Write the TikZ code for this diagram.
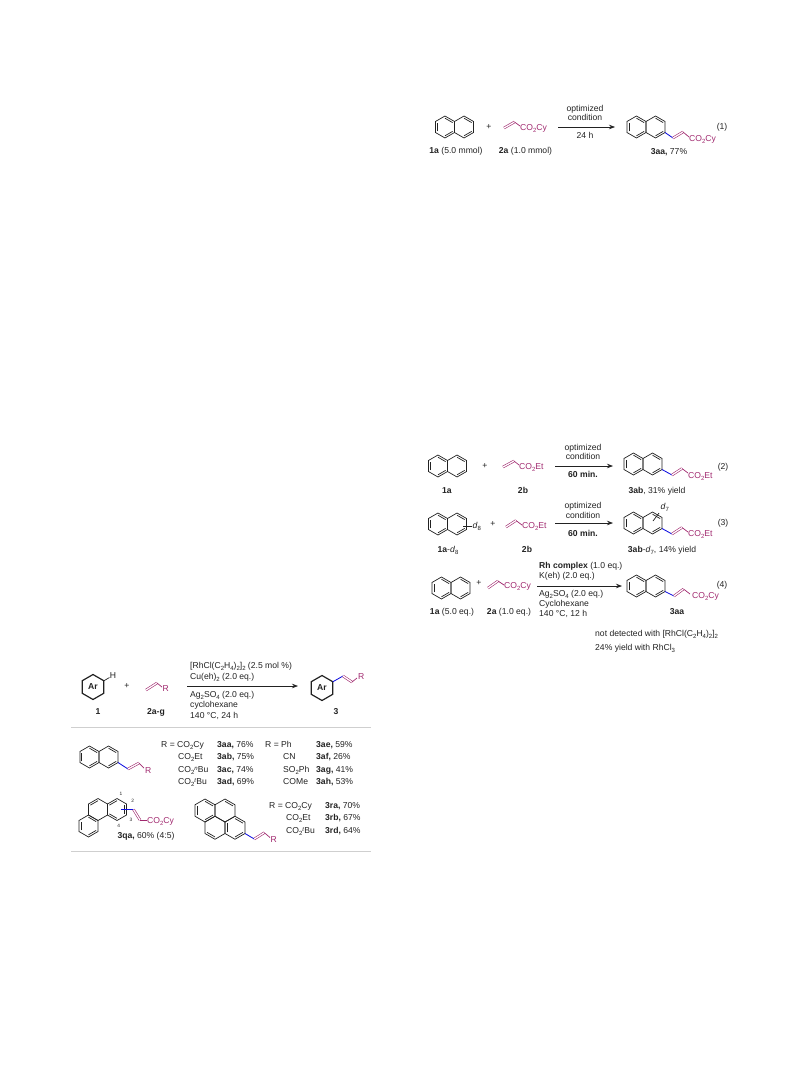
\documentclass[tikz,border=0pt]{standalone}
\usepackage{fontspec}
\setmainfont{Liberation Sans}
\usetikzlibrary{arrows.meta}
\definecolor{acrylcol}{HTML}{A0286E}
\definecolor{newbond}{HTML}{1010E0}
\definecolor{rulecol}{HTML}{CFCFCF}
\definecolor{inkcol}{HTML}{222222}
\newcommand{\dn}[1]{\raisebox{-1.3pt}{\fontsize{6}{6}\selectfont #1}}
\newcommand{\upx}[1]{\raisebox{2.8pt}{\fontsize{6}{6}\selectfont #1}}
\newcommand{\ringa}{11}
% one hexagon: centre x, centre y, edges that get an inner line
\newcommand{\chemring}[3]{
	\draw[bond] (#1,#2) +(30:\ringa) -- +(90:\ringa) -- +(150:\ringa) -- +(210:\ringa) -- +(270:\ringa) -- +(330:\ringa) -- cycle;
	\foreach \k in {#3}
	{
		\draw[bond] (#1,#2) +(30+60*\k:0.8*\ringa) -- +(90+60*\k:0.8*\ringa);
	}
}
\newcommand{\naphth}[2]{
	\begin{scope}[shift={(#1,#2)}]
		\chemring{-9.53}{0}{0,2,4}
		\chemring{9.53}{0}{0,4}
	\end{scope}
}
% blue bond, then the magenta alkene
\newcommand{\sidechain}[4]{
	\draw[newb] #1 -- #2;
	\draw[dblb] #2 -- #3;
	\draw[acryl] #3 -- #4;
}
\newcommand{\vinylgroup}[3]{
	\draw[dblb] #1 -- #2;
	\draw[acryl] #2 -- #3;
}
\tikzset{
	bond/.style={inkcol, line width=0.7pt, line join=miter},
	acryl/.style={acrylcol, line width=0.7pt},
	dblb/.style={acrylcol, line width=0.6pt, double=white, double distance=1.3pt},
	newb/.style={newbond, line width=0.85pt},
	txt/.style={inner sep=0pt, text=inkcol, text height=5.8pt, text depth=0pt, font=\fontsize{8.6}{9}\selectfont},
	wtxt/.style={txt, anchor=west},
	magtxt/.style={wtxt, text=acrylcol},
	tiny/.style={txt, text height=3.2pt, font=\fontsize{4.8}{5}\selectfont},
	rxnarrow/.style={-{Stealth[length=6pt,width=4.5pt]}, inkcol, line width=0.7pt},
	grayrule/.style={rulecol, line width=0.8pt},
}
\begin{document}
\begin{tikzpicture}[x=1pt,y=-1pt]
	\useasboundingbox (0,0) rectangle (793,1079);
	% scheme 1
	\naphth{454.5}{127}
	\node[txt] (plusA) at (489,127) {+};
	\vinylgroup{(504,128)}{(514.5,122)}{(520,126)}
	\node[magtxt] (esterA) at (520,128) {CO\dn{2}Cy};
	\coordinate (arrA1) at (558,127);
	\coordinate (arrA2) at (615,127);
	\draw[rxnarrow] (arrA1) -- (arrA2);
	\node[txt] (optA) at (585,109) {optimized};
	\node[txt] (condA) at (585,118) {condition};
	\node[txt] (timeA) at (585,136) {24 h};
	\naphth{646}{127}
	\sidechain{(665,132.5)}{(673,138)}{(683,132)}{(689,137)}
	\node[magtxt] (prodA) at (689,139) {CO\dn{2}Cy};
	\node[txt] (numA) at (722,127) {(1)};
	\node[txt] (labA1) at (456,151) {\textbf{1a} (5.0 mmol)};
	\node[txt] (labA2) at (525.5,151) {\textbf{2a} (1.0 mmol)};
	\node[txt] (labA3) at (669,152) {\textbf{3aa,} 77\%};
	% scheme 2
	\naphth{447.5}{466}
	\node[txt] (plusB) at (485,466) {+};
	\vinylgroup{(503,467)}{(514,461)}{(519,465)}
	\node[magtxt] (esterB) at (519,467) {CO\dn{2}Et};
	\coordinate (arrB1) at (555,466);
	\coordinate (arrB2) at (613,466);
	\draw[rxnarrow] (arrB1) -- (arrB2);
	\node[txt] (optB) at (583,448) {optimized};
	\node[txt] (condB) at (583,457) {condition};
	\node[txt] (timeB) at (583,475) {\textbf{60 min.}};
	\naphth{643}{464}
	\sidechain{(662,469.5)}{(672,475)}{(682,468.5)}{(688,473)}
	\node[magtxt] (prodB) at (688,476) {CO\dn{2}Et};
	\node[txt] (numB) at (723,467) {(2)};
	\node[txt] (labB1) at (447,491) {\textbf{1a}};
	\node[txt] (labB2) at (523,491) {\textbf{2b}};
	\node[txt] (labB3) at (657,491) {\textbf{3ab}, 31\% yield};
	% scheme 3
	\naphth{447.5}{524}
	\draw[bond] (463,526) -- (472,526);
	\node[wtxt] (deutC) at (472.5,526) {\textit{d}\dn{8}};
	\node[txt] (plusC) at (493,524) {+};
	\vinylgroup{(506,527)}{(516,520.5)}{(522,525)}
	\node[magtxt] (esterC) at (522,526) {CO\dn{2}Et};
	\coordinate (arrC1) at (555,523);
	\coordinate (arrC2) at (613,523);
	\draw[rxnarrow] (arrC1) -- (arrC2);
	\node[txt] (optC) at (583,506) {optimized};
	\node[txt] (condC) at (583,516) {condition};
	\node[txt] (timeC) at (583,534) {\textbf{60 min.}};
	\naphth{643}{523}
	\draw[bond] (653,521) -- (659,513);
	\node[wtxt] (deutD) at (660.5,507) {\textit{d}\dn{7}};
	\sidechain{(662,528.5)}{(672,534)}{(682,527.5)}{(688,532)}
	\node[magtxt] (prodC) at (688,534) {CO\dn{2}Et};
	\node[txt] (numC) at (723,523) {(3)};
	\node[txt] (labC1) at (448,550) {\textbf{1a}-\textit{d}\dn{8}};
	\node[txt] (labC2) at (527,550) {\textbf{2b}};
	\node[txt] (labC3) at (662,550) {\textbf{3ab}-\textit{d}\dn{7}, 14\% yield};
	% scheme 4
	\naphth{451}{588}
	\node[txt] (plusD) at (479,583) {+};
	\vinylgroup{(488,588)}{(498,581)}{(504,585)}
	\node[magtxt] (esterD) at (504,586) {CO\dn{2}Cy};
	\coordinate (arrD1) at (537,586);
	\coordinate (arrD2) at (622,586);
	\draw[rxnarrow] (arrD1) -- (arrD2);
	\node[wtxt] (condD1) at (539,566) {\textbf{Rh complex} (1.0 eq.)};
	\node[wtxt] (condD2) at (539,576) {K(eh) (2.0 eq.)};
	\node[wtxt] (condD3) at (539,594) {Ag\dn{2}SO\dn{4} (2.0 eq.)};
	\node[wtxt] (condD4) at (539,604) {Cyclohexane};
	\node[wtxt] (condD5) at (539,614) {140 °C, 12 h};
	\naphth{646}{586}
	\sidechain{(665,591.5)}{(674,596)}{(683.5,589)}{(690,594)}
	\node[magtxt] (prodD) at (692,596) {CO\dn{2}Cy};
	\node[txt] (numD) at (722,585) {(4)};
	\node[txt] (labD1) at (452,612) {\textbf{1a} (5.0 eq.)};
	\node[txt] (labD2) at (509,612) {\textbf{2a} (1.0 eq.)};
	\node[txt] (labD3) at (677,612) {\textbf{3aa}};
	\node[wtxt] (noteA) at (595,634) {not detected with [RhCl(C\dn{2}H\dn{4})\dn{2}]\dn{2}};
	\node[wtxt] (noteB) at (595,648) {24\% yield with RhCl\dn{3}};
	% general scheme
	\draw[inkcol, line width=1.2pt] (93,687) +(30:12.5) -- +(90:12.5) -- +(150:12.5) -- +(210:12.5) -- +(270:12.5) -- +(330:12.5) -- cycle;
	\node[txt] (arene) at (93,687) {\textbf{Ar}};
	\draw[bond] (103.8,680.8) -- (109.5,677.5);
	\node[txt] (hydro) at (113,676) {H};
	\node[txt] (plusE) at (127,686) {+};
	\vinylgroup{(146,690)}{(157,683)}{(162,687)}
	\node[magtxt] (rgroupA) at (162.5,689) {R};
	\coordinate (arrE1) at (187,686);
	\coordinate (arrE2) at (298,686);
	\draw[rxnarrow] (arrE1) -- (arrE2);
	\node[wtxt] (condE1) at (190,666) {[RhCl(C\dn{2}H\dn{4})\dn{2}]\dn{2} (2.5 mol \%)};
	\node[wtxt] (condE2) at (190,677) {Cu(eh)\dn{2} (2.0 eq.)};
	\node[wtxt] (condE3) at (190,695) {Ag\dn{2}SO\dn{4} (2.0 eq.)};
	\node[wtxt] (condE4) at (190,705) {cyclohexane};
	\node[wtxt] (condE5) at (190,716) {140 °C, 24 h};
	\draw[inkcol, line width=1.2pt] (322,688) +(30:12.5) -- +(90:12.5) -- +(150:12.5) -- +(210:12.5) -- +(270:12.5) -- +(330:12.5) -- cycle;
	\node[txt] (areneP) at (322,688) {\textbf{Ar}};
	\sidechain{(332.8,681.8)}{(343,676)}{(352,682)}{(357,678)}
	\node[magtxt] (rgroupB) at (358,676.5) {R};
	\node[txt] (labE1) at (98,712) {\textbf{1}};
	\node[txt] (labE2) at (156,712) {\textbf{2a-g}};
	\node[txt] (labE3) at (336,712) {\textbf{3}};
	\coordinate (ruleA1) at (71,727);
	\coordinate (ruleA2) at (371,727);
	\draw[grayrule] (ruleA1) -- (ruleA2);
	% naphthyl products
	\naphth{99}{757}
	\sidechain{(118,762.5)}{(128,769)}{(139,763)}{(144,768)}
	\node[magtxt] (rgroupC) at (145,771) {R};
	\node[wtxt] (rowRa) at (161,745) {R = CO\dn{2}Cy};
	\node[wtxt] (rowRb) at (178,757) {CO\dn{2}Et};
	\node[wtxt] (rowRc) at (178,770) {CO\dn{2}\upx{\textit{n}}Bu};
	\node[wtxt] (rowRd) at (178,782) {CO\dn{2}\upx{\textit{t}}Bu};
	\foreach \name/\ypos/\prod/\yld in {a/745/3aa/76, b/757/3ab/75, c/770/3ac/74, d/782/3ad/69}
	{
		\node[wtxt] (rowP\name) at (217,\ypos) {\textbf{\prod,} \yld\%};
	}
	\node[wtxt] (rowRe) at (265,745) {R = Ph};
	\node[wtxt] (rowRf) at (283,757) {CN};
	\node[wtxt] (rowRg) at (283,770) {SO\dn{2}Ph};
	\node[wtxt] (rowRh) at (283,782) {COMe};
	\foreach \name/\ypos/\prod/\yld in {e/745/3ae/59, f/757/3af/26, g/770/3ag/41, h/782/3ah/53}
	{
		\node[wtxt] (rowP\name) at (316,\ypos) {\textbf{\prod,} \yld\%};
	}
	% phenanthrene
	\chemring{88.5}{826}{0,2,4}
	\chemring{98}{809.5}{3}
	\chemring{117}{809.5}{1,3,5}
	\draw[newb] (121.3,809.5) -- (133.5,809.5);
	\draw[dblb] (133.5,809.5) -- (140,820);
	\draw[acryl] (140,820) -- (146.5,820);
	\node[magtxt] (esterQ) at (147,821) {CO\dn{2}Cy};
	\node[tiny] (posA) at (121,794) {1};
	\node[tiny] (posB) at (132.7,801.3) {2};
	\node[tiny] (posC) at (131,820.3) {3};
	\node[tiny] (posD) at (118.7,826) {4};
	\node[txt] (labQ) at (146,836) {\textbf{3qa,} 60\% (4:5)};
	% pyrene
	\begin{scope}
		\renewcommand{\ringa}{11.5}
		\chemring{205}{810.5}{0,2,4}
		\chemring{225}{810.5}{4}
		\chemring{215}{827.75}{1}
		\chemring{235}{827.75}{0,2,4}
	\end{scope}
	\sidechain{(245,833.5)}{(254.3,839)}{(264.3,832.7)}{(270,837.5)}
	\node[magtxt] (rgroupD) at (270.5,840) {R};
	\node[wtxt] (rowRa2) at (269,806) {R = CO\dn{2}Cy};
	\node[wtxt] (rowRb2) at (286,818) {CO\dn{2}Et};
	\node[wtxt] (rowRd2) at (286,831) {CO\dn{2}\upx{\textit{t}}Bu};
	\node[wtxt] (rowPa2) at (325,806) {\textbf{3ra,} 70\%};
	\node[wtxt] (rowPb2) at (325,818) {\textbf{3rb,} 67\%};
	\node[wtxt] (rowPd2) at (325,831) {\textbf{3rd,} 64\%};
	\coordinate (ruleB1) at (71,851);
	\coordinate (ruleB2) at (371,851);
	\draw[grayrule] (ruleB1) -- (ruleB2);
\end{tikzpicture}
\end{document}
